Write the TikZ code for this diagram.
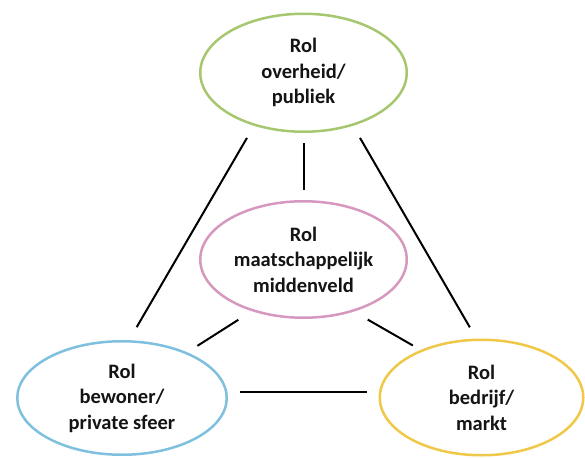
\documentclass[tikz,border=0pt]{standalone}
\usepackage{fontspec}
\setmainfont{Carlito}
\usetikzlibrary{shapes.geometric}
\definecolor{rolgreen}{RGB}{166,199,112}
\definecolor{rolpink}{RGB}{214,152,190}
\definecolor{rolblue}{RGB}{126,192,222}
\definecolor{rolyellow}{RGB}{240,200,72}
\begin{document}
\begin{tikzpicture}[x=1pt,y=-1pt,
  rol/.style={ellipse, draw, line width=2.5pt, inner xsep=-14pt, inner ysep=0pt,
    align=center, font=\bfseries\fontsize{20.5}{25.5}\selectfont, text=black!92},
  link/.style={draw, line width=2pt, black}]
\useasboundingbox (0,0) rectangle (585,457);

% the four roles
\node[rol, draw=rolgreen, minimum width=206.5pt, minimum height=118pt]
  (pub) at (303.5,72.75) {Rol\\overheid/\\publiek};
\node[rol, draw=rolpink, minimum width=206.5pt, minimum height=116.5pt]
  (mid) at (303.5,259.5) {Rol\\maatschappelijk\\middenveld};
\node[rol, draw=rolblue, minimum width=209.5pt, minimum height=113.5pt]
  (bew) at (122,398) {Rol\\bewoner/\\private sfeer};
\node[rol, draw=rolyellow, minimum width=203.5pt, minimum height=115.5pt]
  (mkt) at (481.5,397.5) {Rol\\bedrijf/\\markt};

% connections between the roles
\draw[link, shorten <=14pt, shorten >=15pt] (pub.227) -- (bew.83);
\draw[link, shorten <=14pt, shorten >=13pt] (pub.313) -- (mkt.95);
\draw[link, shorten <=10pt, shorten >=10pt] (pub.south) -- (mid.north);
\draw[link, shorten <=16pt, shorten >=12pt] (mid.225.7) -- (bew.35.2);
\draw[link, shorten <=16pt, shorten >=9pt] (mid.314.3) -- (mkt.142.8);
\draw[link, shorten <=12pt, shorten >=12pt] (bew.3) -- (mkt.west |- bew.3);
\end{tikzpicture}
\end{document}
